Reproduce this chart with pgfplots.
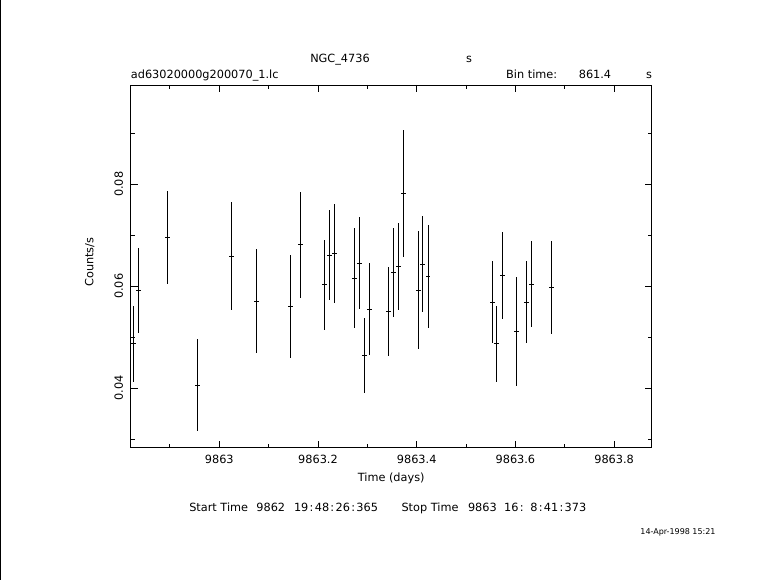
\documentclass[border=0pt]{standalone}
\usepackage{fontspec}
\setmainfont{DejaVu Sans}
\usepackage{pgfplots}
\pgfplotsset{compat=1.18}
\usepackage{pgfplotstable}

% light curve: time (days), rate (counts/s), half bin, error
\pgfplotstableread{
x y ex ey
9862.8257 0.0487 0.00499 0.0075
9862.8359 0.0592 0.00499 0.0083
9862.8946 0.0696 0.00499 0.0091
9862.9554 0.0406 0.00499 0.0091
9863.0243 0.0659 0.00499 0.0106
9863.0750 0.0571 0.00499 0.0103
9863.1447 0.0561 0.00499 0.0101
9863.1650 0.0681 0.00499 0.0104
9863.2128 0.0603 0.00499 0.0088
9863.2229 0.0661 0.00499 0.0088
9863.2330 0.0664 0.00499 0.0097
9863.2736 0.0616 0.00499 0.0099
9863.2837 0.0645 0.00499 0.0090
9863.2939 0.0464 0.00499 0.0073
9863.3040 0.0555 0.00499 0.0090
9863.3425 0.0550 0.00499 0.0087
9863.3526 0.0627 0.00499 0.0088
9863.3627 0.0639 0.00499 0.0086
9863.3728 0.0782 0.00499 0.0124
9863.4032 0.0592 0.00499 0.0116
9863.4122 0.0643 0.00499 0.0094
9863.4229 0.0619 0.00499 0.0102
9863.5532 0.0569 0.00499 0.0081
9863.5613 0.0487 0.00499 0.0075
9863.5735 0.0621 0.00499 0.0086
9863.6018 0.0511 0.00499 0.0107
9863.6221 0.0569 0.00499 0.0081
9863.6322 0.0604 0.00499 0.0084
9863.6727 0.0597 0.00499 0.0091
}\lcdata

\newcommand{\cl}{\kern1.3pt:\kern1.3pt}

\begin{document}
\begin{tikzpicture}[x=1pt,y=1pt,font=\fontsize{11.3}{13.5}\selectfont]
\useasboundingbox (0,0) rectangle (781,580);
\draw[line width=1pt] (0.5,0) -- (0.5,580);

\begin{axis}[
    at={(130.7pt,132.3pt)}, anchor=south west,
    scale only axis, width=521pt, height=362.7pt,
    xmin=9862.8205, xmax=9863.8762,
    ymin=0.0283, ymax=0.0995,
    scaled x ticks=false, scaled y ticks=false,
    axis line style={line width=0.9pt},
    tick style={black, line width=0.9pt},
    tick align=inside,
    major tick length=7pt, minor tick length=4pt,
    xtick={9863,9863.2,9863.4,9863.6,9863.8},
    xticklabels={9863,9863.2,9863.4,9863.6,9863.8},
    minor xtick={9862.9,9863.1,9863.3,9863.5,9863.7},
    ytick={0.04,0.06,0.08},
    yticklabels={0.04,0.06,0.08},
    minor ytick={0.03,0.05,0.07,0.09},
    xticklabel style={anchor=north, inner sep=0pt, font=\fontsize{11.3}{13.5}\selectfont},
    xticklabel shift=7pt,
    yticklabel style={rotate=90, anchor=south, inner sep=0pt, font=\fontsize{11.3}{13.5}\selectfont},
    yticklabel shift=7.4pt,
    xlabel={Time (days)},
    xlabel style={at={(axis description cs:0.5,0)}, anchor=base, yshift=-34.3pt, font=\fontsize{11.3}{13.5}\selectfont},
    ylabel={Counts/s},
    ylabel style={at={(axis description cs:-0.0718,0.512)}, anchor=base, font=\fontsize{11.3}{13.5}\selectfont},
]
\addplot[draw=none, mark=none,
    error bars/.cd,
    x dir=both, x explicit,
    y dir=both, y explicit,
    error mark=none,
    error bar style={draw=black, solid, line width=0.9pt}]
    table[x=x, y=y, x error=ex, y error=ey] {\lcdata};
\end{axis}

\node[anchor=base, inner sep=0pt] at (340,517.7) {NGC\_4736};
\node[anchor=base, inner sep=0pt] at (469,517.7) {s};
\node[anchor=base west, inner sep=0pt] at (130.7,501) {ad63020000g200070\_1.lc};
\node[anchor=base, inner sep=0pt] at (531.7,501.5) {Bin time:};
\node[anchor=base, inner sep=0pt] at (595,501.5) {861.4};
\node[anchor=base, inner sep=0pt] at (649,501.5) {s};

\node[anchor=base, inner sep=0pt] at (218.7,68.5) {Start Time};
\node[anchor=base, inner sep=0pt] at (270.8,68.5) {9862};
\node[anchor=base, inner sep=0pt] at (336,68.5) {19\cl48\cl26\cl365};
\node[anchor=base, inner sep=0pt] at (430,68.5) {Stop Time};
\node[anchor=base east, inner sep=0pt] at (497,68.5) {9863};
\node[anchor=base west, inner sep=0pt] at (504,68.5) {16\kern1.3pt:};
\node[anchor=base, inner sep=0pt] at (558.3,68.5) {8\cl41\cl373};

\node[anchor=base, inner sep=0pt, font=\fontsize{8}{9.5}\selectfont] at (678,45) {14-Apr-1998 15:21};
\end{tikzpicture}
\end{document}
